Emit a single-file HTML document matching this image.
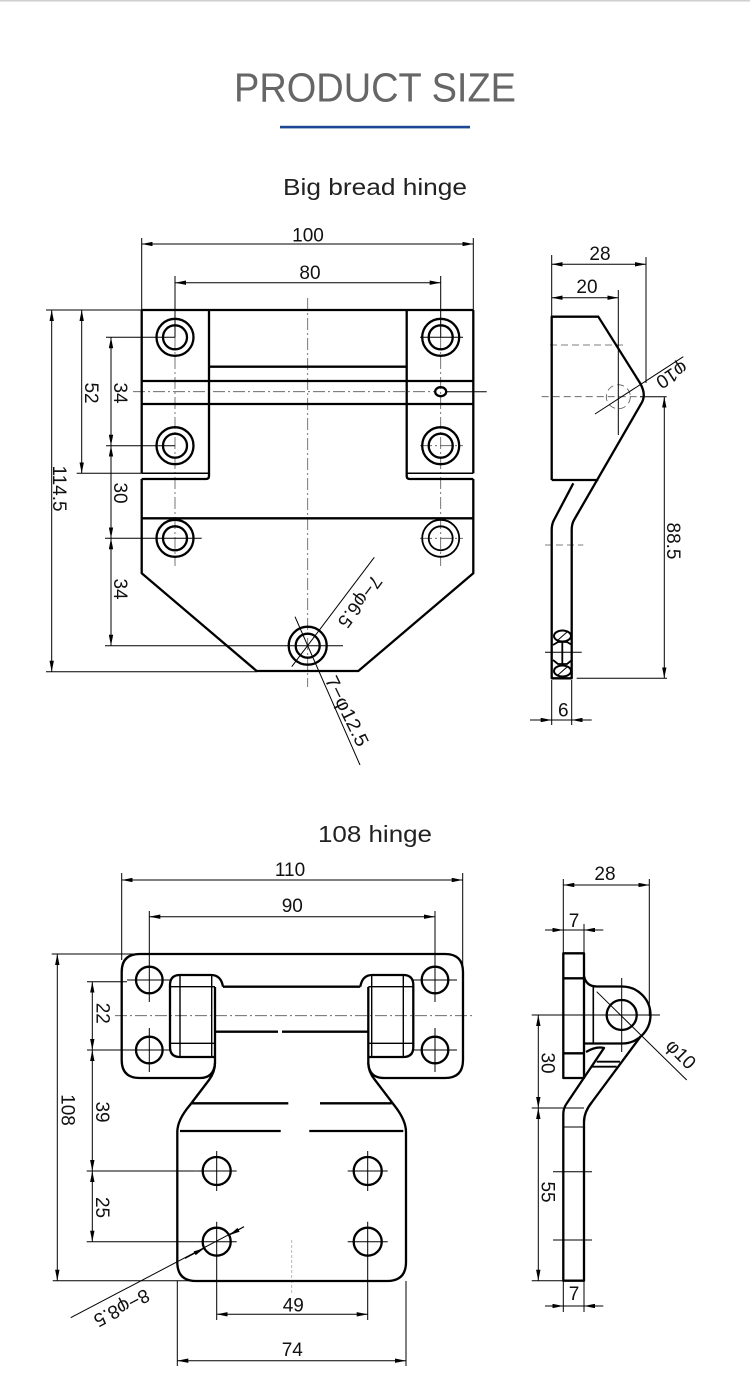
<!DOCTYPE html>
<html><head><meta charset="utf-8"><style>
html,body{margin:0;padding:0;background:#fff;}
svg{display:block;}
text{font-family:"Liberation Sans",Arial,sans-serif;}
</style></head><body>
<svg width="750" height="1394" viewBox="0 0 750 1394" xmlns="http://www.w3.org/2000/svg">
<defs>
<marker id="ar" viewBox="0 0 11 4.4" refX="11" refY="2.2" markerWidth="11" markerHeight="4.4" markerUnits="userSpaceOnUse" orient="auto-start-reverse"><path d="M0,0L11,2.2L0,4.4z" fill="#000"/></marker>
</defs>
<rect x="0" y="0" width="750" height="1394" fill="#fff"/>
<rect x="0" y="0" width="750" height="1.5" fill="#cfcfcf"/>

<!-- Header -->
<text x="375" y="101.7" font-size="40.5" fill="#666" text-anchor="middle" textLength="282" lengthAdjust="spacingAndGlyphs">PRODUCT SIZE</text>
<rect x="280" y="125.8" width="190" height="2.6" fill="#1b4793"/>
<text x="375" y="195" font-size="23" fill="#222" text-anchor="middle" textLength="184" lengthAdjust="spacingAndGlyphs">Big bread hinge</text>
<text x="375" y="842" font-size="23" fill="#222" text-anchor="middle" textLength="114" lengthAdjust="spacingAndGlyphs">108 hinge</text>

<!-- ============ TOP FRONT VIEW ============ -->
<g fill="none" stroke="#555" stroke-width="0.8" stroke-dasharray="12 3 2 3">
<path d="M307.7,298 V687"/>
<path d="M175,337 V566"/>
<path d="M440.7,337 V566"/>
<path d="M133,391.7 H436"/>
<path d="M420,445.7 H463 M420,538.3 H463"/>
</g>
<g fill="none" stroke="#000" stroke-width="2.3" stroke-linejoin="round">
<path d="M141.7,310 H473.3"/>
<path d="M141.7,310 V473.3"/>
<path d="M473.3,310 V473.3"/>
<path d="M209,310 V476 Q209,479 206,479 H141.7"/>
<path d="M406.7,310 V476 Q406.7,479 409.7,479 H473.3"/>
<path d="M209,366.7 H406.7"/>
<path d="M141.7,381 H473.3 M141.7,404 H473.3 M141.7,518.3 H473.3"/>
<path d="M141.7,479 V573.3 L256.7,671 H358.3 L473.3,573.3 V479"/>
<path d="M141.7,473.3 H209 M406.7,473.3 H473.3" stroke-width="1.5"/>
<circle cx="175" cy="337.3" r="18.5"/><circle cx="175" cy="337.3" r="12"/>
<circle cx="440.7" cy="337.3" r="18.5"/><circle cx="440.7" cy="337.3" r="12"/>
<circle cx="175" cy="445.7" r="18.5"/><circle cx="175" cy="445.7" r="12"/>
<circle cx="440.7" cy="445.7" r="18.5"/><circle cx="440.7" cy="445.7" r="12"/>
<circle cx="175" cy="538.3" r="18.5"/><circle cx="175" cy="538.3" r="12"/>
<circle cx="440.7" cy="538.3" r="18.5" stroke-width="1.8"/><circle cx="440.7" cy="538.3" r="12" stroke-width="1.8"/>
<circle cx="307.7" cy="645.7" r="19"/><circle cx="307.7" cy="645.7" r="12"/>
<ellipse cx="440.7" cy="391.7" rx="5.5" ry="4.5"/>
</g>
<g fill="none" stroke="#000" stroke-width="1">
<path d="M141.7,238 V310 M473.3,238 V310"/>
<path d="M175,276 V337.3 M440.7,276 V337.3"/>
<path d="M46,310 H141.7 M46,671.7 H256.7"/>
<path d="M76.7,473.3 H141.7"/>
<path d="M106,337.3 H175 M106,445.7 H175"/>
<path d="M105,538.3 H201.7"/>
<path d="M105,645.7 H343"/>
<path d="M420,337.3 H463"/>
<path d="M446,391.7 H486.7"/>
<path d="M141.7,244 H473.3" marker-start="url(#ar)" marker-end="url(#ar)"/>
<path d="M175,282.7 H440.7" marker-start="url(#ar)" marker-end="url(#ar)"/>
<path d="M51.7,310 V671.7" marker-start="url(#ar)" marker-end="url(#ar)"/>
<path d="M81.7,310 V473.3" marker-start="url(#ar)" marker-end="url(#ar)"/>
<path d="M111,337.3 V445.7" marker-start="url(#ar)" marker-end="url(#ar)"/>
<path d="M111,445.7 V538.3" marker-start="url(#ar)" marker-end="url(#ar)"/>
<path d="M111,538.3 V645.7" marker-start="url(#ar)" marker-end="url(#ar)"/>
<path d="M374.3,557.3 L291.7,666.7"/>
<path d="M295,616.7 L360,765"/>
</g>
<g font-size="19" fill="#111">
<text x="308" y="241.5" text-anchor="middle">100</text>
<text x="310" y="279" text-anchor="middle">80</text>
<text transform="translate(53.2,488.5) rotate(90)" text-anchor="middle">114.5</text>
<text transform="translate(84.8,393) rotate(90)" text-anchor="middle">52</text>
<text transform="translate(114,393) rotate(90)" text-anchor="middle">34</text>
<text transform="translate(114,493) rotate(90)" text-anchor="middle">30</text>
<text transform="translate(114,589) rotate(90)" text-anchor="middle">34</text>
<text transform="translate(354.8,597.8) rotate(127)" text-anchor="middle" textLength="60" lengthAdjust="spacingAndGlyphs">7−φ6.5</text>
<text transform="translate(341.2,713.9) rotate(64)" text-anchor="middle" textLength="76" lengthAdjust="spacingAndGlyphs">7−φ12.5</text>
</g>

<!-- ============ TOP SIDE VIEW ============ -->
<g fill="none" stroke="#555" stroke-width="0.8" stroke-dasharray="7 4">
<path d="M550,345 H627"/>
<path d="M541.7,396.7 H640"/>
<path d="M545,545 H583.3"/>
<circle cx="618.3" cy="396.7" r="12"/>
</g>
<g fill="none" stroke="#000" stroke-width="2.3" stroke-linejoin="round">
<path d="M551.7,480 V316.7 H598.3 L640,383 Q647,395 641,404 L574,520 Q571.7,524 571.7,530 V678.3 H551.7 V530 Q551.7,524 554,520 L573.3,483.3"/>
<path d="M551.7,480 H598.3"/>
<ellipse cx="562.5" cy="636" rx="8.5" ry="5.5" stroke-width="2"/>
<ellipse cx="562.5" cy="671" rx="8.5" ry="5.5" stroke-width="2"/>
<path d="M553,645 L558,642 H567 L572,645 M553,660 L558,664 H567 L572,660 M562.3,642 V664" stroke-width="1.8"/>
</g>
<g fill="none" stroke="#000" stroke-width="1">
<path d="M558,640 L567,632 M558,675 L567,667"/>
<path d="M545,652.3 H581.7"/>
<path d="M551.7,255 V316.7 M646,257 V383 M618.3,290 V435"/>
<path d="M640,396.7 H666.7"/>
<path d="M576.7,678.3 H667"/>
<path d="M551.7,680 V725 M571.7,680 V725"/>
<path d="M551.7,264.3 H646" marker-start="url(#ar)" marker-end="url(#ar)"/>
<path d="M551.7,297.7 H618.3" marker-start="url(#ar)" marker-end="url(#ar)"/>
<path d="M664.3,396.7 V678.3" marker-start="url(#ar)" marker-end="url(#ar)"/>
<path d="M530,720 H551.7" marker-end="url(#ar)"/>
<path d="M591.7,720 H571.7" marker-end="url(#ar)"/>
<path d="M551.7,720 H571.7"/>
<path d="M595,414 L683.3,356.7"/>
</g>
<g font-size="19" fill="#111">
<text x="600" y="260" text-anchor="middle">28</text>
<text x="587" y="293" text-anchor="middle">20</text>
<text x="563.3" y="716.5" text-anchor="middle">6</text>
<text transform="translate(667.2,541) rotate(90)" text-anchor="middle">88.5</text>
<text transform="translate(668.5,369.6) rotate(147)" text-anchor="middle">φ10</text>
</g>

<!-- ============ BOTTOM FRONT VIEW ============ -->
<g fill="none" stroke="#555" stroke-width="0.8" stroke-dasharray="12 3 2 3">
<path d="M115,1015.7 H473"/>
</g>
<path d="M291.7,1240 V1295" stroke="#aaa" stroke-width="0.8" stroke-dasharray="3 2" fill="none"/>
<g fill="none" stroke="#000" stroke-width="2.3" stroke-linejoin="round">
<path d="M215,1063 Q214,1078 200,1078 H139.7 Q121.7,1078 121.7,1060 V972 Q121.7,954 139.7,954 H445 Q463,954 463,972 V1060 Q463,1078 445,1078 H384 Q369,1078 368.3,1063"/>
<path d="M215,987 V1063 Q215,1072 209,1080 L190,1105 Q177.3,1120 177.3,1132 V1262 Q177.3,1281 196,1281 H387 Q406,1281 406,1262 V1132 Q406,1120 394,1105 L375,1080 Q368.3,1072 368.3,1063 V987"/>
<path d="M215,1057 H180 Q170,1057 170,1047 V985 Q170,975 180,975 H211 Q221,975 223,986.7"/>
<path d="M368.3,1057 H403.3 Q413.3,1057 413.3,1047 V985 Q413.3,975 403.3,975 H372.3 Q362.3,975 360.3,986.7"/>
<path d="M223,986.7 H360.3"/>
<path d="M215,1031.7 H278 M282,1031.7 H368.3"/>
<path d="M191.7,1103.3 H288.3 M320,1103.3 H391.7"/>
<path d="M180,1131 H280.7 M309.3,1131 H403.3"/>
<circle cx="149.3" cy="980" r="13.3"/>
<circle cx="435" cy="980" r="13.3"/>
<circle cx="149.3" cy="1050" r="13.3"/>
<circle cx="435" cy="1050" r="13.3"/>
<circle cx="216.7" cy="1171" r="14"/>
<circle cx="367.7" cy="1171" r="14"/>
<circle cx="216.7" cy="1241.7" r="14"/>
<circle cx="367.7" cy="1241.7" r="14"/>
</g>
<g fill="none" stroke="#000" stroke-width="1.4">
<path d="M180,976 V1056 M211.7,976 V1056 M170,986.7 H215 M170,1043.3 H215"/>
<path d="M403.3,976 V1056 M371.7,976 V1056 M413.3,986.7 H368.3 M413.3,1043.3 H368.3"/>
</g>
<g fill="none" stroke="#000" stroke-width="1">
<path d="M127,980 H171.5 M413,980 H457 M127,1050 H171.5 M413,1050 H457"/>
<path d="M149.3,958 V1002 M435,958 V1002 M149.3,1028 V1072 M435,1028 V1072"/>
<path d="M196.7,1171 H236.7 M347.7,1171 H387.7 M196.7,1241.7 H236.7 M347.7,1241.7 H387.7"/>
<path d="M216.7,1151 V1191 M367.7,1151 V1191 M216.7,1221.7 V1320 M367.7,1221.7 V1320"/>
<path d="M121.7,873 V960 M462.7,873 V1000"/>
<path d="M149.3,911 V958 M435,911 V958"/>
<path d="M51.7,954 H139 M52.7,1280.7 H196"/>
<path d="M87,981.7 H127 M87,1050 H127"/>
<path d="M86.7,1171 H196.7 M86.7,1241.7 H196.7"/>
<path d="M177.3,1281 V1366 M406,1281 V1366"/>
<path d="M121.7,880 H462.7" marker-start="url(#ar)" marker-end="url(#ar)"/>
<path d="M149.3,916.7 H435" marker-start="url(#ar)" marker-end="url(#ar)"/>
<path d="M57.3,954 V1280.7" marker-start="url(#ar)" marker-end="url(#ar)"/>
<path d="M92.3,981.7 V1050" marker-start="url(#ar)" marker-end="url(#ar)"/>
<path d="M92.3,1050 V1171" marker-start="url(#ar)" marker-end="url(#ar)"/>
<path d="M92.3,1171 V1241.7" marker-start="url(#ar)" marker-end="url(#ar)"/>
<path d="M216.7,1314.3 H367.7" marker-start="url(#ar)" marker-end="url(#ar)"/>
<path d="M177.3,1360.7 H406" marker-start="url(#ar)" marker-end="url(#ar)"/>
<path d="M244,1226.7 L70.7,1317.7"/>
<path d="M244,1226.7 L229.1,1235.2" marker-end="url(#ar)"/>
<path d="M185,1258.4 L204.3,1248.2" marker-end="url(#ar)"/>
</g>
<g font-size="19" fill="#111">
<text x="290" y="876" text-anchor="middle">110</text>
<text x="292.3" y="912" text-anchor="middle">90</text>
<text x="293.3" y="1311.5" text-anchor="middle">49</text>
<text x="292.3" y="1356" text-anchor="middle">74</text>
<text transform="translate(61.5,1110) rotate(90)" text-anchor="middle">108</text>
<text transform="translate(96.5,1013.3) rotate(90)" text-anchor="middle">22</text>
<text transform="translate(95.8,1112) rotate(90)" text-anchor="middle">39</text>
<text transform="translate(95.8,1207.5) rotate(90)" text-anchor="middle">25</text>
<text transform="translate(118.7,1302.3) rotate(152.3)" text-anchor="middle" textLength="60" lengthAdjust="spacingAndGlyphs">8−φ8.5</text>
</g>

<!-- ============ BOTTOM SIDE VIEW ============ -->
<g fill="none" stroke="#000" stroke-width="2.3" stroke-linejoin="round">
<rect x="563.3" y="953.3" width="20.7" height="124.7"/>
<path d="M563.3,978.3 H584 M563.3,1053.3 H584"/>
<path d="M584,976 Q586,986.5 597,986.5 H622 A28.5,28.5 0 0 1 622,1043.5 H584"/>
<path d="M593.3,986.5 V1043.5" stroke-width="1.6"/>
<path d="M641,1036 L592,1102 Q584,1112 584,1122 V1280.7 H563.3 V1114 Q563.3,1108 567,1103 L604,1048 Q596,1046 586,1052"/>
<path d="M596.7,1061.7 H620 M591.7,1066.7 H616.7" stroke-width="1.8"/>
<circle cx="621.7" cy="1015" r="15"/>
</g>
<g fill="none" stroke="#000" stroke-width="1">
<path d="M563.3,1108 H584 M563.3,1127 H584"/>
<path d="M553,1171.7 H592 M553,1240 H592"/>
<path d="M621.7,978 V1052"/>
<path d="M531.7,1015 H660"/>
<path d="M531.7,1108 H563.3 M531.7,1280.7 H563.3"/>
<path d="M563.3,879 V953 M649.3,879 V1016 M584,924 V953"/>
<path d="M563.3,1281 V1312 M584,1281 V1312"/>
<path d="M563.3,885 H649.3" marker-start="url(#ar)" marker-end="url(#ar)"/>
<path d="M545,930 H563.3" marker-end="url(#ar)"/>
<path d="M603.3,930 H584" marker-end="url(#ar)"/>
<path d="M563.3,930 H584"/>
<path d="M545,1306 H563.3" marker-end="url(#ar)"/>
<path d="M603.3,1306 H584" marker-end="url(#ar)"/>
<path d="M563.3,1306 H584"/>
<path d="M538.3,1015 V1108" marker-start="url(#ar)" marker-end="url(#ar)"/>
<path d="M538.3,1108 V1280.7" marker-start="url(#ar)" marker-end="url(#ar)"/>
<path d="M596.7,991.7 L686.7,1080"/>
</g>
<g font-size="19" fill="#111">
<text x="605" y="880" text-anchor="middle">28</text>
<text x="574" y="927" text-anchor="middle">7</text>
<text x="574" y="1300" text-anchor="middle">7</text>
<text transform="translate(541.7,1063) rotate(90)" text-anchor="middle">30</text>
<text transform="translate(541.7,1192) rotate(90)" text-anchor="middle">55</text>
<text transform="translate(676.4,1058.6) rotate(45)" text-anchor="middle">φ10</text>
</g>
</svg>
</body></html>
